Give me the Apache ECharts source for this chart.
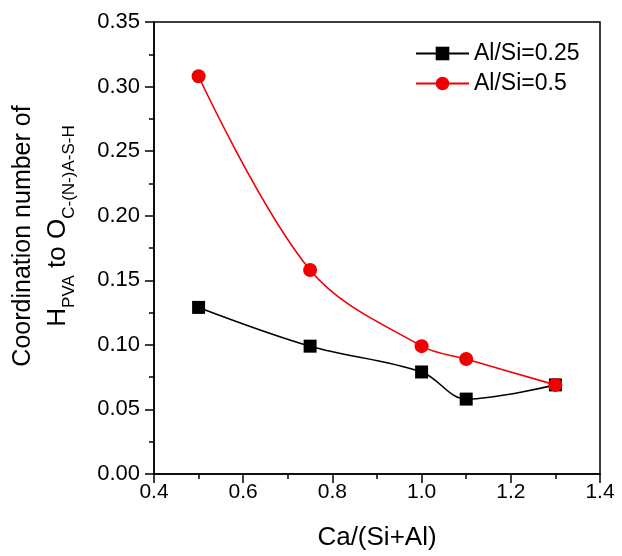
<!DOCTYPE html>
<html>
<head>
<meta charset="utf-8">
<script src="https://cdn.jsdelivr.net/npm/echarts@6/dist/echarts.min.js"></script>
<style>
  html, body { margin: 0; padding: 0; background: #fff; }
  #chart { width: 622px; height: 556px; }
</style>
</head>
<body>
<div id="chart"></div>
<script>
// Ca/(Si+Al) ratios along the x axis
const caRatio = [0.5, 0.75, 1.0, 1.1, 1.3];
// Coordination number of H(PVA) to O of C-(N-)A-S-H
const alSi025 = [0.129, 0.099, 0.079, 0.058, 0.069];
const alSi05 = [0.308, 0.158, 0.099, 0.089, 0.069];
const seriesNames = ['Al/Si=0.25', 'Al/Si=0.5'];
const xTicks = [0.4, 0.6, 0.8, 1.0, 1.2, 1.4];
const yTicks = [0.00, 0.05, 0.10, 0.15, 0.20, 0.25, 0.30, 0.35];

const FONT = "Arial, 'Liberation Sans', sans-serif";
const pairs = (xs, ys) => xs.map((x, i) => [x, ys[i]]);

const chart = echarts.init(document.getElementById('chart'), null, { renderer: 'canvas' });

const axisCommon = {
  type: 'value',
  axisLine: { show: true, lineStyle: { color: '#000', width: 1.5 } },
  axisTick: { show: true, inside: false, length: 9, lineStyle: { color: '#000', width: 1.5 } },
  minorTick: { show: true, splitNumber: 2, length: 5, lineStyle: { color: '#000', width: 1.5 } },
  splitLine: { show: false },
  minorSplitLine: { show: false },
  axisLabel: { color: '#000', fontFamily: FONT, fontSize: 22 }
};

chart.setOption({
  animation: false,
  backgroundColor: '#fff',
  grid: {
    left: 154, right: 22, top: 22, bottom: 81,
    show: true, borderColor: '#000', borderWidth: 1.5, backgroundColor: 'transparent'
  },
  xAxis: Object.assign({}, axisCommon, {
    min: xTicks[0], max: xTicks[xTicks.length - 1], interval: 0.2,
    axisLabel: Object.assign({}, axisCommon.axisLabel, {
      fontSize: 21,
      margin: 8,
      formatter: v => v.toFixed(1)
    }),
    name: 'Ca/(Si+Al)',
    nameLocation: 'middle',
    nameGap: 51,
    nameTextStyle: { color: '#000', fontFamily: FONT, fontSize: 26 }
  }),
  yAxis: Object.assign({}, axisCommon, {
    min: yTicks[0], max: yTicks[yTicks.length - 1], interval: 0.05,
    axisLabel: Object.assign({}, axisCommon.axisLabel, {
      margin: 14,
      formatter: v => v.toFixed(2)
    })
  }),
  legend: {
    orient: 'vertical',
    left: 410, top: 37,
    itemWidth: 53, itemHeight: 17, itemGap: 7,
    textStyle: { color: '#000', fontFamily: FONT, fontSize: 23 },
    data: seriesNames
  },
  graphic: [
    {
      type: 'text',
      x: 23, y: 236,
      rotation: Math.PI / 2,
      style: {
        text: 'Coordination number of',
        fill: '#000', font: '25px ' + FONT,
        align: 'center', verticalAlign: 'middle'
      }
    },
    {
      type: 'text',
      x: 61, y: 226,
      rotation: Math.PI / 2,
      style: {
        text: '{m|H}{s|PVA}{m| to O}{s|C-(N-)A-S-H}',
        fill: '#000', fontFamily: FONT,
        align: 'center', verticalAlign: 'middle',
        rich: {
          m: { fontSize: 26, fontFamily: FONT, fill: '#000', verticalAlign: 'bottom', padding: [0, 0, 7, 0] },
          s: { fontSize: 17, fontFamily: FONT, fill: '#000', verticalAlign: 'bottom' }
        }
      }
    }
  ],
  series: [
    {
      name: seriesNames[0],
      type: 'line',
      data: pairs(caRatio, alSi025),
      smooth: 0.35,
      symbol: 'rect',
      symbolSize: 13,
      color: '#000',
      lineStyle: { color: '#000', width: 1.6 },
      itemStyle: { color: '#000' },
      z: 2
    },
    {
      name: seriesNames[1],
      type: 'line',
      data: pairs(caRatio, alSi05),
      smooth: 0.35,
      symbol: 'circle',
      symbolSize: 14,
      color: '#f00000',
      lineStyle: { color: '#f00000', width: 1.6 },
      itemStyle: { color: '#f00000' },
      z: 3
    }
  ]
});
</script>
</body>
</html>
